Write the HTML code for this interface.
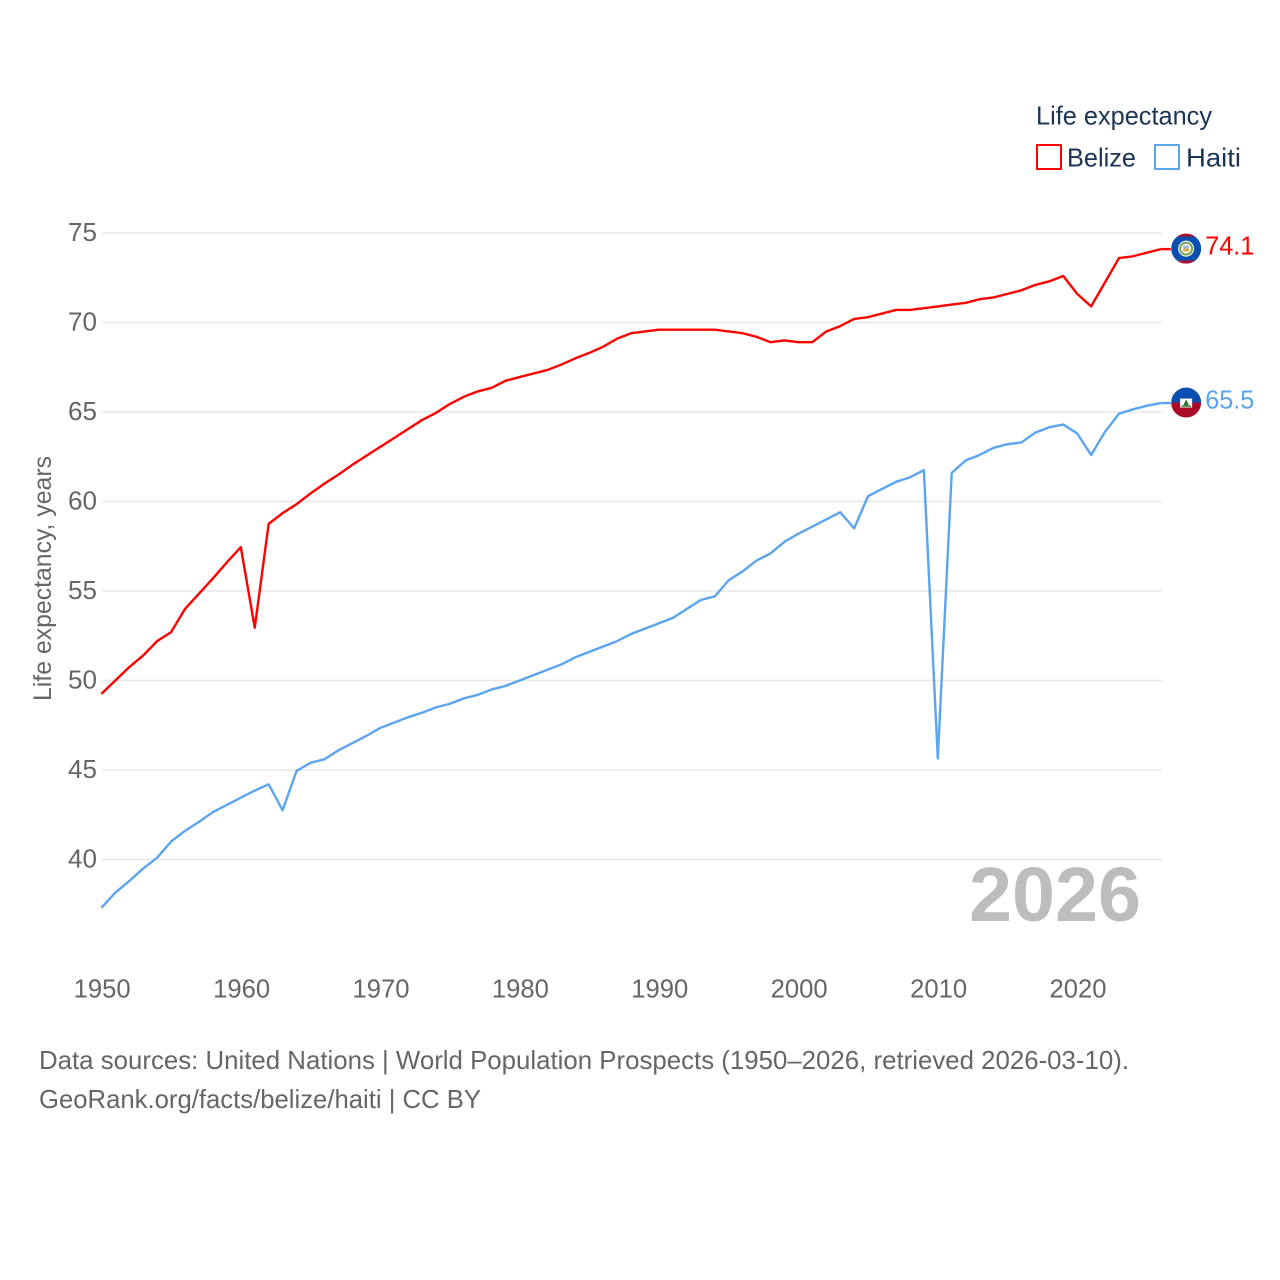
<!DOCTYPE html>
<html lang="en">
<head>
<meta charset="utf-8">
<title>Life expectancy: Belize and Haiti</title>
<style>
html,body{margin:0;padding:0;background:#fff;width:1280px;height:1280px;overflow:hidden}
svg{display:block}
text{font-family:"Liberation Sans",Arial,sans-serif}
</style>
</head>
<body>
<svg id="chart" xmlns="http://www.w3.org/2000/svg" width="1280" height="1280" viewBox="0 0 1280 1280">
  <defs>
    <clipPath id="flag-clip"><circle cx="0" cy="0" r="15"></circle></clipPath>
  </defs>
  <rect width="1280" height="1280" fill="#ffffff"></rect>
  <g id="grid"></g>
  <g id="y-ticks"></g>
  <g id="x-ticks"></g>
  <text transform="translate(51,701) rotate(-90)" font-size="25" fill="#666666" textLength="245" lengthAdjust="spacingAndGlyphs">Life expectancy, years</text>
  <text x="969" y="921" font-size="77" font-weight="700" fill="#bdbdbd" textLength="172" lengthAdjust="spacingAndGlyphs">2026</text>
  <g id="series"></g>
  <g id="flags"></g>

  <g>
    <text x="1036" y="124.5" font-size="26" fill="#1a3556" textLength="176" lengthAdjust="spacingAndGlyphs">Life expectancy</text>
    <g>
      <rect x="1037" y="145" width="24" height="24" fill="none" stroke="#ff0000" stroke-width="2"></rect>
      <text x="1067" y="166.5" font-size="26" fill="#1a3556" textLength="69" lengthAdjust="spacingAndGlyphs">Belize</text>
    </g>
    <g>
      <rect x="1155" y="145" width="24" height="24" fill="none" stroke="#5ba4ee" stroke-width="2"></rect>
      <text x="1186" y="166.5" font-size="26" fill="#1a3556" textLength="55" lengthAdjust="spacingAndGlyphs">Haiti</text>
    </g>
  </g>

  <text x="39" y="1069" font-size="26" fill="#666666" textLength="1090" lengthAdjust="spacingAndGlyphs">Data sources: United Nations | World Population Prospects (1950–2026, retrieved 2026-03-10).</text>
  <text x="39" y="1108" font-size="26" fill="#666666" textLength="442" lengthAdjust="spacingAndGlyphs">GeoRank.org/facts/belize/haiti | CC BY</text>
</svg>
<script>
const years = [1950,1951,1952,1953,1954,1955,1956,1957,1958,1959,1960,1961,1962,1963,1964,1965,1966,1967,1968,1969,1970,1971,1972,1973,1974,1975,1976,1977,1978,1979,1980,1981,1982,1983,1984,1985,1986,1987,1988,1989,1990,1991,1992,1993,1994,1995,1996,1997,1998,1999,2000,2001,2002,2003,2004,2005,2006,2007,2008,2009,2010,2011,2012,2013,2014,2015,2016,2017,2018,2019,2020,2021,2022,2023,2024,2025,2026];
const belize = [49.25,50.0,50.75,51.4,52.2,52.7,54.0,54.85,55.7,56.6,57.45,52.95,58.75,59.35,59.85,60.45,61.0,61.5,62.05,62.55,63.05,63.55,64.05,64.55,64.95,65.45,65.85,66.15,66.35,66.75,66.95,67.15,67.35,67.65,68.0,68.3,68.65,69.1,69.4,69.5,69.6,69.6,69.6,69.6,69.6,69.5,69.4,69.2,68.9,69.0,68.9,68.9,69.5,69.8,70.2,70.3,70.5,70.7,70.7,70.8,70.9,71.0,71.1,71.3,71.4,71.6,71.8,72.1,72.3,72.6,71.6,70.9,72.25,73.6,73.7,73.9,74.1];
const haiti = [37.3,38.15,38.8,39.5,40.1,41.0,41.6,42.1,42.65,43.05,43.45,43.85,44.2,42.75,44.95,45.4,45.6,46.1,46.5,46.9,47.35,47.65,47.95,48.2,48.5,48.7,49.0,49.2,49.5,49.7,50.0,50.3,50.6,50.9,51.3,51.6,51.9,52.2,52.6,52.9,53.2,53.5,54.0,54.5,54.7,55.6,56.1,56.7,57.1,57.75,58.2,58.6,59.0,59.4,58.5,60.3,60.7,61.1,61.35,61.75,45.65,61.6,62.3,62.6,63.0,63.2,63.3,63.85,64.15,64.3,63.8,62.6,63.9,64.9,65.15,65.35,65.5];
const yTickValues = [40,45,50,55,60,65,70,75];
const xTickValues = [1950,1960,1970,1980,1990,2000,2010,2020];

const NS = 'http://www.w3.org/2000/svg';
function xScale(year){ return 101.4 + (year - 1950) * 13.94; }
function yScale(value){ return 233 + (75 - value) * (859.5 - 233) / 35; }
function make(tag, attrs, parent){
  const el = document.createElementNS(NS, tag);
  for (const k in attrs) el.setAttribute(k, attrs[k]);
  parent.appendChild(el);
  return el;
}

const gridGroup = document.getElementById('grid');
const yGroup = document.getElementById('y-ticks');
yTickValues.forEach(function(v){
  const line = make('line', {x1:102, x2:1162, y1:yScale(v), y2:yScale(v), stroke:'#e8e8e8', 'stroke-width':1.5}, gridGroup);
  
  
  const label = make('text', {x:97, y:yScale(v) + 8, 'font-size':25.5, fill:'#666666', 'text-anchor':'end', textLength:29, lengthAdjust:'spacingAndGlyphs'}, yGroup);
  
  
  label.textContent = String(v);
});

const xGroup = document.getElementById('x-ticks');
xTickValues.forEach(function(v){
  const label = make('text', {x:xScale(v) + 0.8, y:997.5, 'font-size':25.5, fill:'#666666', 'text-anchor':'middle', textLength:57, lengthAdjust:'spacingAndGlyphs'}, xGroup);
  
  
  label.textContent = String(v);
});

const seriesGroup = document.getElementById('series');
const flagsGroup = document.getElementById('flags');

function drawSeries(name, values, color){
  const pts = values.map(function(v, i){ return xScale(years[i]).toFixed(2) + ',' + yScale(v).toFixed(2); }).join(' ');
  const line = make('polyline', {points:pts, fill:'none', stroke:color, 'stroke-width':2.4, 'stroke-linejoin':'round'}, seriesGroup);
  
  

  const last = values[values.length - 1];
  const endX = xScale(years[years.length - 1]);
  const endY = yScale(last);
  const lead = make('line', {x1:endX, x2:endX + 10, y1:endY, y2:endY, stroke:color, 'stroke-width':2.4}, seriesGroup);
  
  

  const flag = make('g', {transform:'translate(' + (endX + 25.3) + ',' + (endY - 0.5) + ')', 'clip-path':'url(#flag-clip)'}, flagsGroup);
  
  
  if (name === 'belize') {
    make('rect', {x:-15, y:-15, width:30, height:30, fill:'#0a4fb0'}, flag);
    make('rect', {x:-15, y:-15, width:30, height:3, fill:'#b01030'}, flag);
    make('rect', {x:-15, y:12, width:30, height:3, fill:'#b01030'}, flag);
    make('circle', {cx:0, cy:0, r:8, fill:'#ffffff'}, flag);
    make('circle', {cx:0, cy:0, r:6, fill:'none', stroke:'#7f9f5a', 'stroke-width':2}, flag);
    make('rect', {x:-3, y:-3, width:6, height:3, fill:'#9fb7d8'}, flag);
    make('rect', {x:-3, y:0, width:6, height:3, fill:'#e0b040'}, flag);
  } else {
    make('rect', {x:-15, y:-15, width:30, height:15, fill:'#0a4fb0'}, flag);
    make('rect', {x:-15, y:0, width:30, height:15, fill:'#a80a28'}, flag);
    make('rect', {x:-6, y:-4, width:12, height:9, fill:'#ffffff'}, flag);
    make('path', {d:'M-3 3 L0 -3 L3 3 Z', fill:'#2f6a3a'}, flag);
    make('rect', {x:-5, y:3, width:10, height:1.5, fill:'#4f9a50'}, flag);
  }

  const valueLabel = make('text', {x:endX + 44.4, y:endY + 5.5, 'font-size':25.5, fill:color, textLength:49, lengthAdjust:'spacingAndGlyphs'}, flagsGroup);
  
  
  valueLabel.textContent = last.toFixed(1);
}

drawSeries('belize', belize, '#ff0000');
drawSeries('haiti', haiti, '#5ba4ee');
</script>
</body>
</html>
